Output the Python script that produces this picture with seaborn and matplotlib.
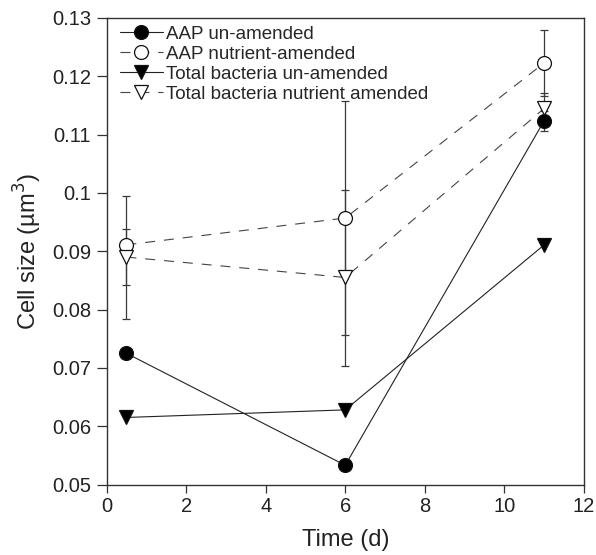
import numpy as np
import pandas as pd
import matplotlib
matplotlib.use('Agg')
import matplotlib.pyplot as plt
import seaborn as sns

sns.set_style('ticks')
plt.rcParams['font.family'] = ['Liberation Sans', 'DejaVu Sans']

# data
time_d = [0.5, 6, 11]
aap_un = [0.0725, 0.0533, 0.1124]
aap_nut = [0.0911, 0.0957, 0.1223]
tot_un = [0.0615, 0.0628, 0.0911]
tot_nut = [0.0890, 0.0855, 0.1145]

# asymmetric error bars (lower, upper)
aap_un_err = [[0, 0, 0.0017], [0, 0, 0.0017]]
aap_nut_err = [[0.0128, 0.0200, 0.0056], [0.0083, 0.0200, 0.0056]]
tot_nut_err = [[0.0048, 0.0152, 0.0027], [0.0048, 0.0150, 0.0027]]

labels = ['AAP un-amended', 'AAP nutrient-amended',
          'Total bacteria un-amended', 'Total bacteria nutrient amended']

fig = plt.figure(figsize=(5.96, 5.55), dpi=100)
ax = fig.add_axes([0.1787, 0.127, 0.8012, 0.8406])

dash = (0, (9, 8))
series = [
    (aap_un, labels[0], 'o', 'black', '-', '#222222', aap_un_err, 10),
    (aap_nut, labels[1], 'o', 'white', dash, '#444444', aap_nut_err, 10),
    (tot_un, labels[2], 'v', 'black', '-', '#222222', None, 9.5),
    (tot_nut, labels[3], 'v', 'white', dash, '#444444', tot_nut_err, 9.5),
]

for vals, lab, mk, mfc, ls, lc, err, ms in series:
    if err is not None:
        ax.errorbar(time_d, vals, yerr=err, fmt='none', ecolor='#3a3a3a',
                    elinewidth=0.9, capsize=2.8, capthick=0.9, zorder=2)
    df = pd.DataFrame({'time': time_d, 'size': vals})
    sns.lineplot(data=df, x='time', y='size', ax=ax, color=lc,
                 linewidth=0.8, linestyle=ls, marker=mk, markersize=ms,
                 markerfacecolor=mfc, markeredgecolor='#111111',
                 markeredgewidth=0.9, label=lab, zorder=3)

ax.set_xlim(0, 12)
ax.set_ylim(0.05, 0.13)
ax.set_xticks(np.arange(0, 13, 2))
ax.set_yticks(np.arange(0.05, 0.131, 0.01))
ax.set_yticklabels(['0.05', '0.06', '0.07', '0.08', '0.09', '0.1',
                    '0.11', '0.12', '0.13'])
ax.tick_params(direction='out', width=0.9, labelsize=14.5, colors='#333333',
               labelcolor='#222222')
ax.tick_params(axis='x', length=6, pad=3)
ax.tick_params(axis='y', length=7, pad=4)
for s in ax.spines.values():
    s.set_linewidth(1.0)
    s.set_color('#333333')

ax.set_xlabel('Time (d)', fontsize=17, color='#222222', labelpad=9)
ax.set_ylabel('Cell size (µm$^3$)', fontsize=17, color='#222222', labelpad=6)

ax.legend(loc='upper left', frameon=False, fontsize=13.5, handlelength=2.3,
          handletextpad=0.15, labelspacing=0.15, borderaxespad=0.0,
          borderpad=0.0, bbox_to_anchor=(0.028, 0.983))

fig.savefig('out.png', dpi=100)
